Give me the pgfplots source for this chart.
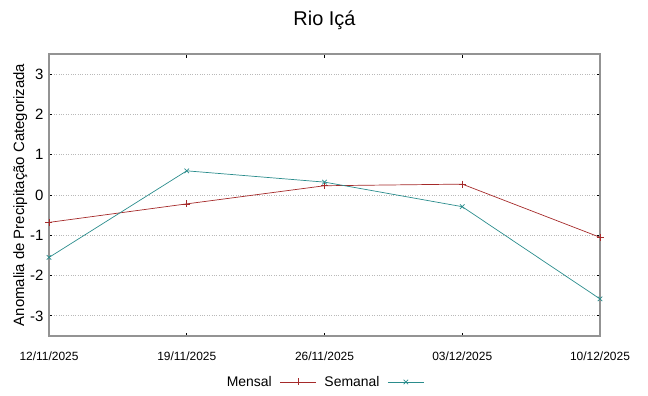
\documentclass[border=0pt]{standalone}
\usepackage{pgfplots}
\pgfplotsset{compat=1.18}
\usepackage{fontspec}
\setmainfont{Liberation Sans}
\definecolor{mensal}{HTML}{A52A2A}
\definecolor{semanal}{HTML}{2A8C8C}
\begin{document}
\begin{tikzpicture}
\begin{axis}[
  scale only axis,
  width=551bp, height=282bp,
  xmin=0, xmax=4, ymin=-3.5, ymax=3.5,
  xtick={0,1,2,3,4},
  xticklabels={12/11/2025,19/11/2025,26/11/2025,03/12/2025,10/12/2025},
  ytick={-3,-2,-1,0,1,2,3},
  /pgf/number format/assume math mode=true,
  x tick label style={font=\fontsize{12}{13}\selectfont, yshift=-12bp},
  y tick label style={font=\fontsize{15}{16}\selectfont, xshift=-2bp},
  tick align=inside,
  major tick length=3.5bp,
  tick style={black, line width=0.8bp},
  axis line style={draw=gray!85, line width=1.2bp},
  ymajorgrids,
  grid style={gray!55, dotted, line width=0.8bp},
  title={Rio Içá},
  title style={font=\fontsize{20}{22}\selectfont, yshift=15bp},
  ylabel={Anomalia de Precipitação Categorizada},
  ylabel style={font=\fontsize{15}{16}\selectfont, yshift=-4bp},
  legend columns=2,
  legend plot pos=right,
  legend style={at={(0.5,-0.163)}, anchor=center, draw=none, fill=none,
    font=\fontsize{14}{15}\selectfont,
    /tikz/every odd column/.append style={column sep=6bp},
    /tikz/every even column/.append style={column sep=6bp}},
  legend image code/.code={\draw[#1] (0bp,0bp) -- (36bp,0bp); \draw[#1,mark repeat=1] plot coordinates {(18bp,0bp)};},
]
\addplot[mensal, line width=0.7bp, mark=+, mark size=3.5bp, mark options={solid}] coordinates {
  (0,-0.68) (1,-0.22) (2,0.23) (3,0.27) (4,-1.05)};
\addlegendentry{Mensal}
\addplot[semanal, line width=0.7bp, mark=x, mark size=3.2bp, mark options={solid}] coordinates {
  (0,-1.55) (1,0.60) (2,0.32) (3,-0.29) (4,-2.58)};
\addlegendentry{Semanal}
\end{axis}
\path[use as bounding box] (-49bp,-60bp) rectangle (599bp,336bp);
\end{tikzpicture}
\end{document}
